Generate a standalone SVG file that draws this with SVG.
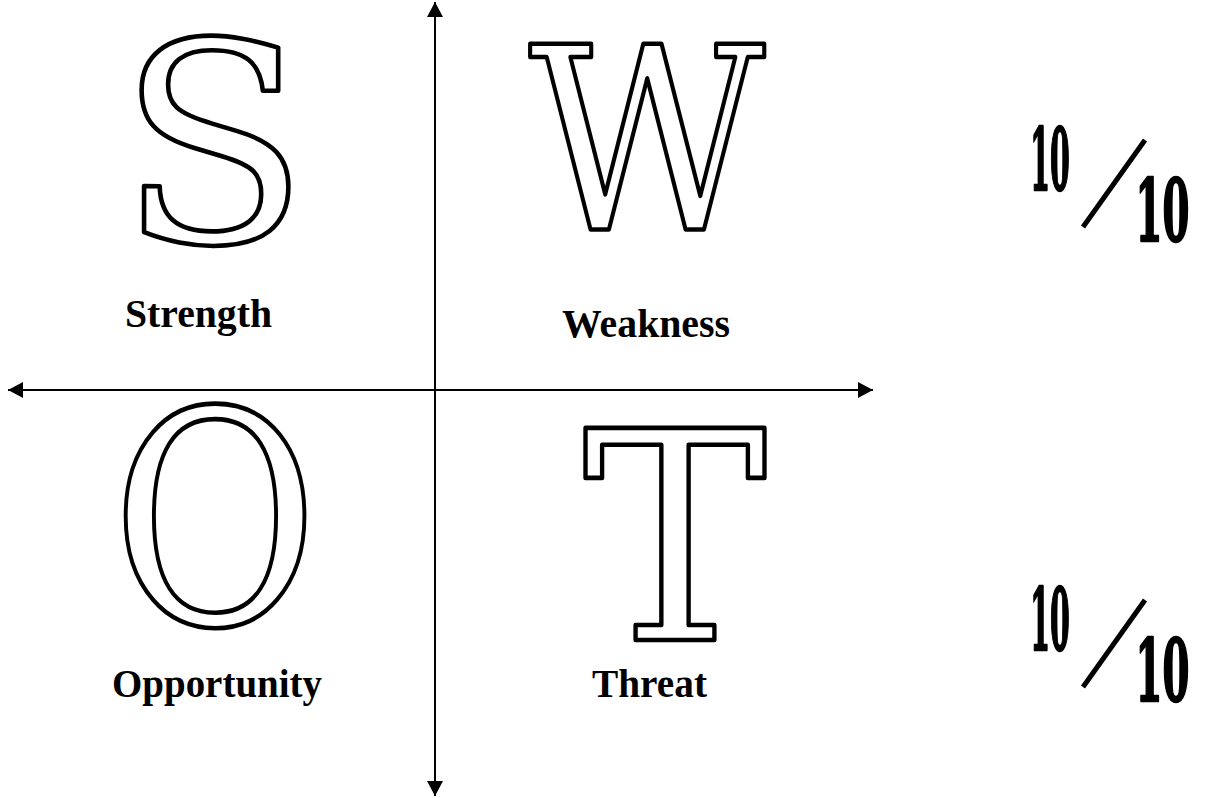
<svg xmlns="http://www.w3.org/2000/svg" width="1211" height="798" viewBox="0 0 1211 798">
<defs>
<style>
.big{font-family:"DejaVu Serif","Liberation Serif",serif;fill:#fff;stroke:#000;stroke-width:4.6;stroke-linejoin:round;text-anchor:middle}
.lbl{font-family:"Liberation Serif","Times New Roman",serif;font-weight:bold;font-size:40px;fill:#000}
.frac{font-family:"DejaVu Serif","Liberation Serif",serif;font-weight:bold;fill:#000;stroke:#000;stroke-width:2.5;stroke-linejoin:round;text-anchor:middle}
.axis{stroke:#000;stroke-width:2;fill:none}
</style>
<marker id="ah" viewBox="0 0 15 16" refX="15" refY="8" markerWidth="15" markerHeight="16" markerUnits="userSpaceOnUse" orient="auto-start-reverse">
<path d="M0,0 L15,8 L0,16 z" fill="#000"/>
</marker>
</defs>
<rect width="1211" height="798" fill="#fff"/>
<g id="connectors">
<line class="axis" x1="435" y1="796" x2="435" y2="2" marker-start="url(#ah)" marker-end="url(#ah)"/>
<line class="axis" x1="8" y1="390" x2="873" y2="390" marker-start="url(#ah)" marker-end="url(#ah)"/>
</g>
<g id="strength">
<text class="big" font-size="278" transform="translate(213.5,242)">S</text>
<text class="lbl" x="125" y="327" textLength="147" lengthAdjust="spacingAndGlyphs">Strength</text>
</g>
<g id="weakness">
<text class="big" font-size="255" transform="translate(647,230) scale(0.9,1)">W</text>
<text class="lbl" x="562" y="337" textLength="168" lengthAdjust="spacingAndGlyphs">Weakness</text>
</g>
<g id="opportunity">
<text class="big" font-size="297" transform="translate(215,624) scale(0.85,1)">O</text>
<text class="lbl" x="112" y="697" textLength="210" lengthAdjust="spacingAndGlyphs">Opportunity</text>
</g>
<g id="threat">
<text class="big" font-size="291" transform="translate(675,640) scale(0.95,1)">T</text>
<text class="lbl" x="592" y="697" textLength="115" lengthAdjust="spacingAndGlyphs">Threat</text>
</g>
<g id="fraction1">
<text class="frac" font-size="86" transform="translate(1050,190) scale(0.33,1)">10</text>
<line x1="1083" y1="227" x2="1145" y2="140" stroke="#000" stroke-width="5"/>
<text class="frac" font-size="86" transform="translate(1162.5,241) scale(0.45,1)">10</text>
</g>
<g id="fraction2">
<text class="frac" font-size="86" transform="translate(1050,650) scale(0.33,1)">10</text>
<line x1="1083" y1="687" x2="1145" y2="600" stroke="#000" stroke-width="5"/>
<text class="frac" font-size="86" transform="translate(1162.5,701) scale(0.45,1)">10</text>
</g>
</svg>
